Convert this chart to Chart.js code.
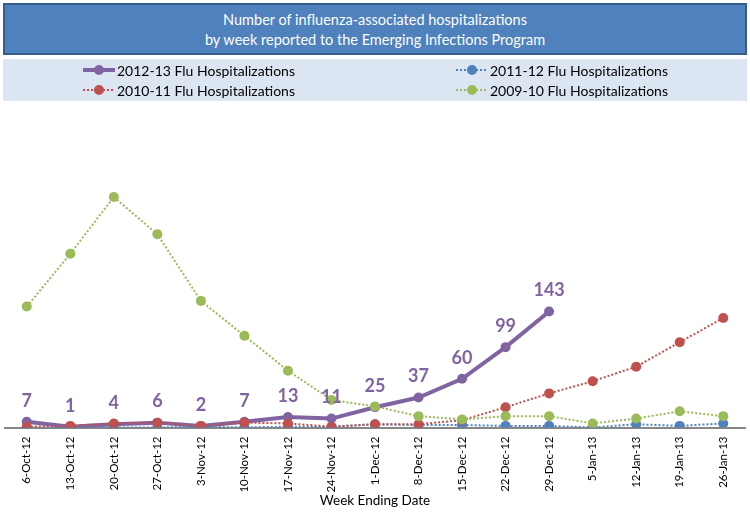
<!DOCTYPE html>
<html>
<head>
<meta charset="utf-8">
<script src="https://cdn.jsdelivr.net/npm/chart.js@4.4.1/dist/chart.umd.min.js"></script>
<style>
  body { margin: 0; background: #fff; font-family: Lato, sans-serif; }
  #wrap { position: relative; width: 750px; height: 515px; overflow: hidden; }
  #chart { position: absolute; left: 0; top: 0; }
  #title {
    position: absolute; left: 3px; top: 3px; width: 740px;
    background: #4F81BD; border: 2px solid #385D8A;
    color: #fff; text-align: center; font-size: 14.5px; line-height: 20px;
    padding: 5px 0 3px 0;
  }
  #legend {
    position: absolute; left: 3px; top: 59px; width: 744px; height: 42px;
    background: #DCE6F2;
  }
  .item {
    position: absolute; display: flex; align-items: center;
    height: 20px; font-size: 14px; color: #000; white-space: nowrap;
  }
  .item svg { margin-right: 1px; }
</style>
</head>
<body>
<div id="wrap">
  <canvas id="chart" width="750" height="515"></canvas>
  <div id="title">Number of influenza-associated hospitalizations<br>by week reported to the Emerging Infections Program</div>
  <div id="legend"></div>
</div>
<script>
// week ending dates
const weeks = ['6-Oct-12', '13-Oct-12', '20-Oct-12', '27-Oct-12', '3-Nov-12', '10-Nov-12',
  '17-Nov-12', '24-Nov-12', '1-Dec-12', '8-Dec-12', '15-Dec-12', '22-Dec-12', '29-Dec-12',
  '5-Jan-13', '12-Jan-13', '19-Jan-13', '26-Jan-13'];

// hospitalizations per season
const season1213 = [7, 1, 4, 6, 2, 7, 13, 11, 25, 37, 60, 99, 143, null, null, null, null];
const season1112 = [0, 0, 0, 0, 1, 0, 1, 1, 4, 3, 3, 2, 2, 0, 4, 2, 5];
const season1011 = [1, 2, 5, 6, 2, 6, 5, 1, 4, 4, 9, 25, 42, 57, 75, 105, 135];
const season0910 = [149, 214, 284, 238, 156, 113, 70, 34, 26, 14, 10, 14, 14, 5, 11, 20, 14];

const seriesNames = ['2012-13 Flu Hospitalizations', '2011-12 Flu Hospitalizations',
  '2010-11 Flu Hospitalizations', '2009-10 Flu Hospitalizations'];

const purple = '#8064A2';
const blue = '#4F81BD';
const red = '#C0504D';
const green = '#9BBB59';

const dotted = (name, data, color, order) => ({
  label: name,
  data,
  borderColor: color,
  backgroundColor: color,
  borderWidth: 2,
  borderDash: [2, 2],
  pointRadius: 5,
  pointBorderWidth: 0,
  order,
});

// labels above the 2012-13 points
const pointLabels = {
  id: 'pointLabels',
  afterDatasetsDraw(chart) {
    const meta = chart.getDatasetMeta(0);
    const ctx = chart.ctx;
    ctx.save();
    ctx.font = 'bold 18px Lato';
    ctx.fillStyle = purple;
    ctx.textAlign = 'center';
    ctx.textBaseline = 'middle';
    meta.data.forEach((pt, i) => {
      const v = season1213[i];
      if (v == null) return;
      ctx.fillText(String(v), pt.x, pt.y - 21);
    });
    ctx.restore();
  },
};

const chart = new Chart(document.getElementById('chart'), {
  type: 'line',
  data: {
    labels: weeks,
    datasets: [
      {
        label: seriesNames[0],
        data: season1213,
        borderColor: purple,
        backgroundColor: purple,
        borderWidth: 4,
        pointRadius: 5,
        pointBorderWidth: 0,
        order: 3,
      },
      dotted(seriesNames[1], season1112, blue, 2),
      dotted(seriesNames[2], season1011, red, 1),
      dotted(seriesNames[3], season0910, green, 0),
    ],
  },
  options: {
    responsive: false,
    animation: false,
    layout: { padding: { top: 184, left: 2, right: 3, bottom: 6 } },
    scales: {
      x: {
        offset: true,
        grid: { display: false, drawTicks: false },
        border: { display: true, color: '#868686', width: 2 },
        ticks: {
          autoSkip: false,
          minRotation: 90,
          maxRotation: 90,
          padding: 9,
          color: '#000',
          font: { family: 'Lato', size: 11.5 },
        },
        title: {
          display: true,
          text: 'Week Ending Date',
          color: '#000',
          font: { family: 'Lato', size: 13.5 },
          padding: { top: 2, bottom: 0 },
        },
        afterFit(scale) {
          scale.height = 81.5;
        },
      },
      y: { display: false, min: 0, max: 300 },
    },
    plugins: {
      legend: { display: false },
      tooltip: { enabled: false },
    },
  },
  plugins: [pointLabels],
});

// html legend in two columns, built from the datasets
const legendBox = document.getElementById('legend');
const spots = [[79, 1], [452, 1], [79, 21], [452, 21]];
chart.data.datasets.forEach((ds, i) => {
  const solid = !ds.borderDash;
  const el = document.createElement('div');
  el.className = 'item';
  el.style.left = spots[i][0] + 'px';
  el.style.top = spots[i][1] + 'px';
  el.innerHTML =
    `<svg width="34" height="12"><line x1="1" y1="6" x2="33" y2="6" stroke="${ds.borderColor}"
      stroke-width="${solid ? 4 : 2}" ${solid ? '' : 'stroke-dasharray="2,2"'}/>
      <circle cx="17" cy="6" r="5" fill="${ds.borderColor}"/></svg><span>${ds.label}</span>`;
  legendBox.appendChild(el);
});
</script>
</body>
</html>
